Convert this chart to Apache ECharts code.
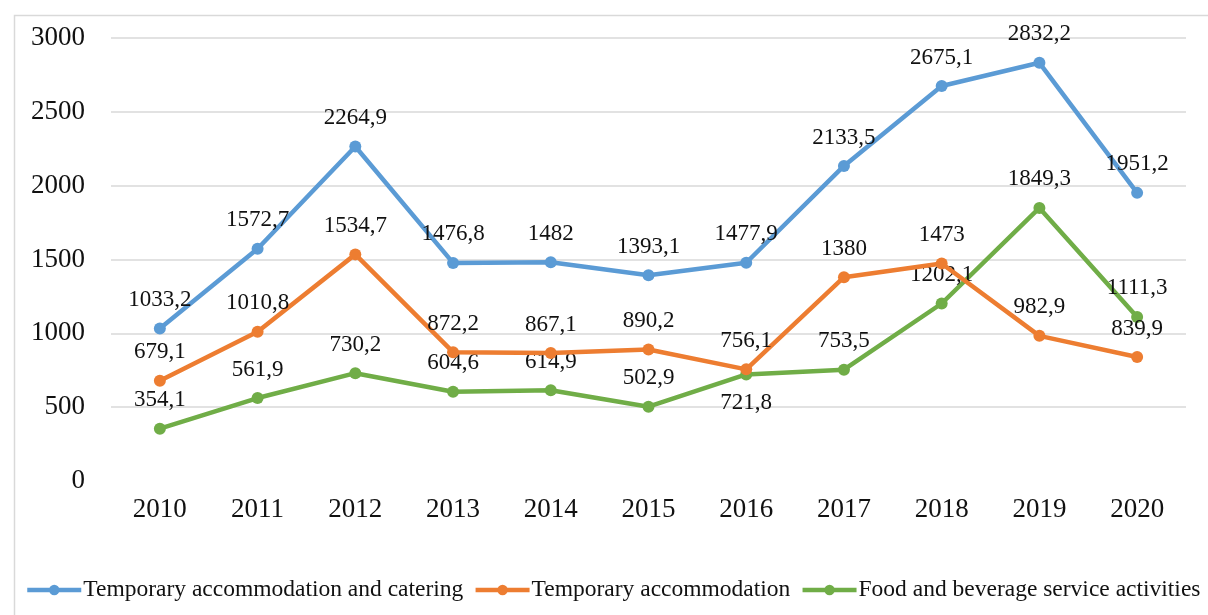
<!DOCTYPE html>
<html>
<head>
<meta charset="utf-8">
<script src="https://cdn.jsdelivr.net/npm/echarts@6/dist/echarts.min.js"></script>
<style>
  html, body { margin: 0; padding: 0; background: #fff; }
  #chart { width: 1208px; height: 615px; }
</style>
</head>
<body>
<div id="chart"></div>
<script>
var years = ['2010','2011','2012','2013','2014','2015','2016','2017','2018','2019','2020'];
var names = ['Temporary accommodation and catering','Temporary accommodation','Food and beverage service activities'];
var accCatering = [1033.2, 1572.7, 2264.9, 1476.8, 1482, 1393.1, 1477.9, 2133.5, 2675.1, 2832.2, 1951.2];
var accommodation = [679.1, 1010.8, 1534.7, 872.2, 867.1, 890.2, 756.1, 1380, 1473, 982.9, 839.9];
var foodBeverage = [354.1, 561.9, 730.2, 604.6, 614.9, 502.9, 721.8, 753.5, 1202.1, 1849.3, 1111.3];
var yTicks = [0, 500, 1000, 1500, 2000, 2500, 3000];

var colors = ['#5B9BD5', '#ED7D31', '#70AD47'];
var font = "'Liberation Serif', 'Times New Roman', serif";

// labels that sit below the point instead of above
var below = {2: [6]};

function fmt(p){ return String(p.value).replace('.', ','); }

function mkSeries(idx, arr){
  return {
    name: names[idx],
    type: 'line',
    data: arr.map(function(v, i){
      var item = {value: v};
      if (below[idx] && below[idx].indexOf(i) >= 0) item.label = {position: 'bottom'};
      return item;
    }),
    symbol: 'circle',
    symbolSize: 12,
    lineStyle: {width: 4.5, color: colors[idx]},
    itemStyle: {color: colors[idx]},
    label: {
      show: true, position: 'top', distance: 11,
      formatter: fmt,
      fontFamily: font, fontSize: 23, color: '#111'
    },
    z: 3 - idx
  };
}

var chart = echarts.init(document.getElementById('chart'));
chart.setOption({
  backgroundColor: '#fff',
  animation: false,
  graphic: [{
    type: 'rect', left: 12, top: 13,
    shape: {width: 1260, height: 660},
    style: {fill: 'none', stroke: '#d9d9d9', lineWidth: 1.5},
    silent: true, z: -1
  }],
  grid: {left: 111, right: 22, top: 38, bottom: 134},
  legend: {
    bottom: 8, left: 20, width: 1400,
    itemWidth: 54, itemHeight: 13, itemGap: 10,
    lineStyle: {width: 4.5},
    textStyle: {fontFamily: font, fontSize: 23.5, color: '#111', padding: [0, 0, 0, -3]},
    data: names
  },
  xAxis: {
    type: 'category', data: years, boundaryGap: true,
    axisLine: {show: false}, axisTick: {show: false},
    axisLabel: {fontFamily: font, fontSize: 27, color: '#111', margin: 15}
  },
  yAxis: {
    type: 'value', min: yTicks[0], max: yTicks[yTicks.length - 1], interval: 500,
    axisLine: {show: false}, axisTick: {show: false},
    axisLabel: {fontFamily: font, fontSize: 27, color: '#111', margin: 26,
      formatter: function(v){ return String(v); }},
    splitLine: {show: true, showMinLine: false, lineStyle: {color: '#d9d9d9', width: 1.5}}
  },
  series: [mkSeries(0, accCatering), mkSeries(1, accommodation), mkSeries(2, foodBeverage)]
});
</script>
</body>
</html>
